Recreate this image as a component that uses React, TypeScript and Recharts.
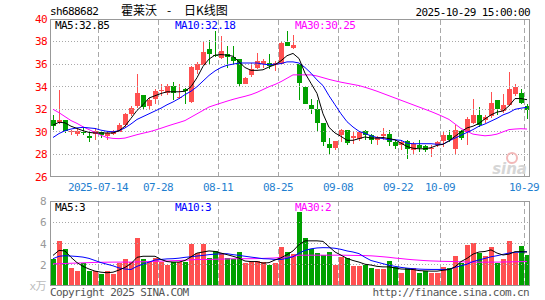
import React from 'react';
import { ComposedChart, Bar, Line, XAxis, YAxis, ReferenceLine } from 'recharts';

const dates = [
  '2025-07-02', '2025-07-03', '2025-07-04', '2025-07-07', '2025-07-08', '2025-07-09', '2025-07-10', '2025-07-11',
  '2025-07-14', '2025-07-15', '2025-07-16', '2025-07-17', '2025-07-18', '2025-07-21', '2025-07-22', '2025-07-23',
  '2025-07-24', '2025-07-25', '2025-07-28', '2025-07-29', '2025-07-30', '2025-07-31', '2025-08-01', '2025-08-04',
  '2025-08-05', '2025-08-06', '2025-08-07', '2025-08-08', '2025-08-11', '2025-08-12', '2025-08-13', '2025-08-14',
  '2025-08-15', '2025-08-18', '2025-08-19', '2025-08-20', '2025-08-21', '2025-08-22', '2025-08-25', '2025-08-26',
  '2025-08-27', '2025-08-28', '2025-08-29', '2025-09-01', '2025-09-02', '2025-09-03', '2025-09-04', '2025-09-05',
  '2025-09-08', '2025-09-09', '2025-09-10', '2025-09-11', '2025-09-12', '2025-09-15', '2025-09-16', '2025-09-17',
  '2025-09-18', '2025-09-19', '2025-09-22', '2025-09-23', '2025-09-24', '2025-09-25', '2025-09-26', '2025-09-29',
  '2025-09-30', '2025-10-09', '2025-10-10', '2025-10-13', '2025-10-14', '2025-10-15', '2025-10-16', '2025-10-17',
  '2025-10-20', '2025-10-21', '2025-10-22', '2025-10-23', '2025-10-24', '2025-10-27', '2025-10-28', '2025-10-29',
];

const opens = [
  31.05, 30.87, 31.02, 29.95, 29.85, 30.0, 29.6, 29.85, 30.0, 29.6,
  29.8, 30.0, 30.57, 31.6, 32.3, 33.3, 32.3, 32.9, 33.6, 33.4,
  34.1, 33.0, 33.8, 32.64, 35.45, 35.94, 37.36, 36.85, 36.56, 36.9,
  36.6, 36.47, 34.26, 35.0, 35.7, 36.03, 36.1, 35.9, 36.03, 38.0,
  37.4, 36.03, 34.0, 32.34, 32.0, 30.78, 28.9, 28.6, 29.7, 30.13,
  29.45, 29.35, 30.04, 29.75, 29.3, 29.6, 29.84, 29.1, 28.8, 29.16,
  28.42, 28.8, 28.72, 28.5, 28.8, 29.16, 29.69, 28.5, 30.04, 29.99,
  30.78, 31.46, 31.05, 31.37, 32.8, 31.85, 32.35, 33.38, 33.44, 32.26,
];

const closes = [
  30.55, 31.08, 30.1, 30.05, 30.05, 29.95, 29.5, 30.1, 29.75, 29.9,
  30.05, 30.57, 31.6, 32.1, 33.47, 32.2, 32.85, 33.6, 33.7, 34.1,
  33.4, 33.1, 33.65, 35.73, 36.05, 37.06, 36.9, 36.75, 37.15, 36.6,
  36.3, 34.26, 34.76, 35.6, 36.3, 36.3, 35.8, 36.1, 37.9, 37.65,
  37.74, 34.32, 32.5, 32.0, 30.78, 29.1, 28.6, 29.16, 30.13, 29.04,
  29.65, 30.0, 29.7, 29.3, 29.55, 29.85, 29.1, 28.75, 29.1, 28.5,
  28.96, 28.6, 28.42, 28.6, 29.1, 29.69, 29.3, 30.13, 29.49, 31.17,
  31.46, 30.58, 31.35, 32.55, 32.05, 32.35, 33.84, 34.0, 32.55, 31.9,
];

const highs = [
  31.5, 33.7, 31.05, 30.15, 30.3, 30.4, 30.0, 30.3, 30.05, 30.05,
  30.2, 30.75, 31.7, 32.3, 35.1, 33.3, 33.0, 33.8, 34.2, 34.25,
  34.4, 34.2, 33.9, 35.8, 36.2, 37.95, 38.1, 38.9, 38.45, 37.6,
  37.6, 36.47, 34.85, 36.1, 37.0, 36.45, 36.86, 36.3, 37.95, 38.9,
  38.6, 36.03, 34.0, 32.87, 32.8, 30.78, 29.5, 29.2, 30.28, 30.13,
  30.1, 30.1, 30.13, 29.83, 29.6, 30.34, 30.13, 29.3, 29.25, 29.25,
  29.1, 29.25, 28.8, 28.8, 29.2, 30.0, 30.2, 30.6, 30.13, 31.3,
  32.94, 32.2, 31.5, 33.53, 32.8, 33.38, 35.3, 34.26, 33.8, 32.5,
];

const lows = [
  30.2, 30.7, 29.9, 29.75, 29.6, 29.7, 29.1, 29.3, 29.5, 29.25,
  29.7, 29.95, 30.45, 31.4, 32.1, 32.0, 32.05, 32.5, 33.2, 33.3,
  32.8, 32.9, 32.5, 32.55, 35.1, 35.88, 36.0, 36.6, 36.47, 35.7,
  36.0, 33.97, 34.2, 34.9, 35.6, 35.7, 35.6, 35.4, 35.95, 37.65,
  37.36, 32.84, 32.45, 31.6, 30.1, 28.74, 28.0, 28.36, 29.1, 28.8,
  28.9, 29.2, 29.25, 28.95, 28.8, 29.25, 28.75, 28.5, 28.4, 27.57,
  28.0, 28.2, 28.2, 27.8, 28.7, 28.65, 29.1, 28.07, 29.3, 28.8,
  30.72, 30.43, 30.75, 31.2, 31.5, 31.7, 32.26, 33.2, 32.5, 31.17,
];

const volumes = [
  2.55, 4.2, 3.45, 1.68, 1.38, 2.15, 1.38, 1.38, 1.1, 1.38,
  1.1, 2.15, 2.5, 2.3, 4.5, 2.5, 2.3, 2.6, 2.3, 1.95,
  2.25, 2.25, 2.25, 3.93, 3.15, 3.93, 2.63, 3.33, 3.08, 2.67,
  2.51, 3.17, 2.13, 2.22, 2.35, 2.22, 1.97, 2.19, 3.71, 3.17,
  2.98, 6.96, 4.56, 3.46, 3.08, 2.92, 3.17, 1.97, 2.76, 2.67,
  1.91, 1.91, 1.97, 1.65, 1.56, 1.56, 2.35, 1.75, 1.27, 1.72,
  1.72, 1.18, 1.43, 1.18, 1.18, 1.75, 1.72, 2.82, 2.13, 3.87,
  4.02, 3.08, 2.82, 3.64, 2.19, 2.51, 4.25, 3.08, 3.77, 2.92,
];

const ma5 = [
  30.6, 30.85, 30.8, 30.5, 30.3, 30.1, 29.95, 29.9, 29.9, 29.9,
  29.9, 30.1, 30.5, 31.2, 31.9, 32.4, 33.0, 33.2, 33.4, 33.55,
  33.55, 33.55, 33.6, 34.0, 34.8, 35.8, 36.45, 36.8, 36.85, 36.8,
  36.7, 36.2, 35.7, 35.45, 35.45, 35.5, 35.75, 35.95, 36.3, 36.75,
  36.95, 36.5, 35.2, 34.3, 33.4, 31.6, 30.4, 29.9, 29.6, 29.25,
  29.25, 29.4, 29.55, 29.45, 29.45, 29.5, 29.4, 29.3, 29.0, 28.7,
  28.55, 28.5, 28.5, 28.6, 28.8, 28.9, 29.2, 29.6, 30.0, 30.35,
  30.5, 30.75, 31.15, 31.5, 31.75, 31.85, 32.3, 32.95, 32.95, 32.85,
];

const ma10 = [
  29.5, 29.85, 30.1, 30.25, 30.35, 30.4, 30.35, 30.3, 30.15, 30.05,
  30.0, 30.1, 30.35, 30.7, 31.1, 31.35, 31.6, 31.85, 32.1, 32.4,
  32.65, 32.95, 33.3, 33.6, 34.0, 34.5, 35.0, 35.4, 35.7, 35.9,
  36.0, 36.1, 36.1, 36.1, 36.1, 36.0, 35.95, 36.0, 36.05, 36.2,
  36.2, 36.1, 35.7, 35.2, 34.6, 34.1, 33.2, 32.4, 31.6, 30.9,
  30.43, 30.05, 29.85, 29.65, 29.5, 29.4, 29.3, 29.3, 29.25, 29.0,
  28.95, 28.95, 28.95, 28.95, 28.9, 28.9, 29.2, 29.45, 29.7, 29.95,
  30.2, 30.5, 30.7, 30.95, 31.2, 31.5, 31.7, 32.0, 32.1, 32.18,
];

const ma30 = [
  32.0, 31.7, 31.35, 31.0, 30.75, 30.45, 30.2, 29.95, 29.7, 29.5,
  29.42, 29.4, 29.45, 29.6, 29.75, 29.88, 30.0, 30.15, 30.32, 30.5,
  30.67, 30.83, 31.0, 31.3, 31.6, 31.9, 32.2, 32.38, 32.55, 32.72,
  32.88, 33.02, 33.15, 33.3, 33.5, 33.75, 34.0, 34.2, 34.45, 34.75,
  35.05, 35.05, 35.05, 35.05, 34.95, 34.8, 34.65, 34.52, 34.4, 34.3,
  34.2, 34.1, 33.95, 33.78, 33.6, 33.4, 33.2, 33.0, 32.8, 32.6,
  32.4, 32.2, 32.0, 31.8, 31.58, 31.35, 31.1, 30.7, 30.3, 30.05,
  29.8, 29.72, 29.65, 29.7, 29.8, 30.0, 30.2, 30.25, 30.28, 30.25,
];

const volMa5 = [
  2.88, 3.35, 3.3, 2.7, 2.2, 1.85, 1.6, 1.4, 1.3, 1.25,
  1.3, 1.5, 1.75, 2.1, 2.7, 2.8, 2.8, 2.8, 2.5, 2.3,
  2.25, 2.25, 2.4, 2.75, 3.1, 3.2, 3.3, 3.25, 3.1, 2.95,
  2.8, 2.62, 2.35, 2.3, 2.3, 2.15, 2.2, 2.45, 2.65, 2.95,
  3.3, 3.9, 4.25, 4.25, 4.25, 4.2, 3.7, 3.2, 2.9, 2.6,
  2.4, 2.25, 2.05, 1.97, 1.85, 1.8, 1.8, 1.7, 1.6, 1.58,
  1.55, 1.45, 1.42, 1.4, 1.4, 1.48, 1.55, 1.8, 2.3, 2.6,
  3.0, 3.2, 3.25, 3.4, 3.1, 2.92, 3.0, 3.23, 3.23, 3.2,
];

const volMa10 = [
  2.57, 2.8, 2.85, 2.82, 2.78, 2.72, 2.6, 2.4, 2.2, 2.05,
  1.9, 1.7, 1.6, 1.55, 1.85, 2.05, 2.25, 2.45, 2.5, 2.55,
  2.57, 2.62, 2.7, 2.75, 2.82, 2.88, 2.95, 3.0, 3.02, 3.04,
  2.95, 2.88, 2.8, 2.72, 2.65, 2.57, 2.55, 2.5, 2.5, 2.6,
  2.75, 3.1, 3.35, 3.5, 3.58, 3.61, 3.6, 3.55, 3.45, 3.3,
  3.2, 3.05, 2.7, 2.4, 2.25, 2.1, 1.95, 1.85, 1.75, 1.68,
  1.63, 1.59, 1.57, 1.56, 1.56, 1.56, 1.56, 1.75, 1.9, 2.05,
  2.3, 2.45, 2.6, 2.75, 2.85, 2.98, 3.1, 3.17, 3.2, 3.23,
];

const volMa30 = [
  2.09, 2.1, 2.12, 2.14, 2.16, 2.18, 2.2, 2.22, 2.23, 2.24,
  2.25, 2.25, 2.25, 2.25, 2.27, 2.28, 2.3, 2.32, 2.34, 2.35,
  2.38, 2.4, 2.43, 2.46, 2.5, 2.5, 2.5, 2.52, 2.53, 2.55,
  2.56, 2.57, 2.57, 2.57, 2.58, 2.6, 2.62, 2.64, 2.68, 2.72,
  2.78, 2.9, 2.9, 2.9, 2.9, 2.9, 2.9, 2.9, 2.9, 2.89,
  2.88, 2.87, 2.86, 2.84, 2.8, 2.75, 2.7, 2.63, 2.58, 2.52,
  2.47, 2.43, 2.39, 2.36, 2.34, 2.32, 2.31, 2.3, 2.28, 2.26,
  2.25, 2.24, 2.24, 2.25, 2.25, 2.26, 2.27, 2.28, 2.29, 2.3,
];

const dateTicks = ['2025-07-14', '2025-07-28', '2025-08-11', '2025-08-25', '2025-09-08', '2025-09-22', '2025-10-09', '2025-10-29'];
const priceTicks = [26, 28, 30, 32, 34, 36, 38, 40];
const priceGrid = [28, 30, 32, 34, 36, 38];
const volTicks = [0, 2, 4, 6, 8];
const volGrid = [2, 4, 6];

const UP = '#ff5050';
const DOWN = '#00a000';
const FRAME = '#999999';
const GRID = '#a8a8a8';
const MONO = '"DejaVu Sans Mono", "Noto Sans CJK SC", monospace';
const CJK = '"Noto Sans CJK SC", sans-serif';

const rows = dates.map((d, i) => ({
  date: d,
  open: opens[i],
  close: closes[i],
  high: highs[i],
  low: lows[i],
  range: [lows[i], highs[i]],
  vol: volumes[i],
  ma5: ma5[i],
  ma10: ma10[i],
  ma30: ma30[i],
  vma5: volMa5[i],
  vma10: volMa10[i],
  vma30: volMa30[i],
}));

const margin = { top: 19, right: 15, bottom: 0, left: 0 };
const volMargin = { top: 6, right: 15, bottom: 10, left: 0 };

// candle drawn inside the [low, high] range bar
function Candle(props: any) {
  const { x, y, width, height, payload } = props;
  if (x == null || y == null) return null;
  const { open, close, high, low } = payload;
  const top = Math.min(y, y + height);
  const bottom = Math.max(y, y + height);
  const span = high - low || 1;
  const py = (p: number) => top + ((high - p) / span) * (bottom - top);
  const color = close >= open ? UP : DOWN;
  const left = Math.floor(x);
  const bTop = Math.round(py(Math.max(open, close)));
  const bBot = Math.round(py(Math.min(open, close)));
  const wTop = Math.round(py(high));
  const wBot = Math.round(py(low));
  return (
    <g shapeRendering="crispEdges">
      <rect x={left + 2} y={wTop} width={1} height={Math.max(1, wBot - wTop)} fill={color} />
      <rect x={left} y={bTop} width={Math.round(width)} height={Math.max(1, bBot - bTop)} fill={color} />
    </g>
  );
}

function VolBar(props: any) {
  const { x, y, width, height, payload } = props;
  if (x == null || y == null) return null;
  const color = payload.close >= payload.open ? UP : DOWN;
  const t = Math.round(y);
  const b = Math.round(y + height);
  return (
    <rect x={Math.floor(x)} y={t} width={Math.round(width)} height={Math.max(0, b - t)} fill={color} shapeRendering="crispEdges" />
  );
}

const crisp = (stroke: string, dash?: string, shift = 0) => (p: any) => {
  const vertical = Math.abs(p.x1 - p.x2) < 0.01;
  const x1 = vertical ? Math.floor(p.x1) + 0.5 + shift : p.x1;
  const x2 = vertical ? Math.floor(p.x2) + 0.5 + shift : p.x2;
  const y1 = vertical ? p.y1 : Math.floor(p.y1) + 0.5 + shift;
  const y2 = vertical ? p.y2 : Math.floor(p.y2) + 0.5 + shift;
  return <line x1={x1} y1={y1} x2={x2} y2={y2} stroke={stroke} strokeWidth={1} strokeDasharray={dash} />;
};

function DateTick(props: any) {
  const { x, y, payload } = props;
  const v: string = payload.value;
  const label = v === dateTicks[0] ? v : v.slice(5);
  return (
    <text x={x - 3} y={y + 14} textAnchor="middle" fill="#1f7fcf" fontSize={11} fontFamily={MONO} letterSpacing={-0.6}>
      {label}
    </text>
  );
}

function VolTick(props: any) {
  const { x, y, payload } = props;
  const zero = payload.value === 0;
  return (
    <text x={x} y={y + 4} textAnchor="end" fill={zero ? '#bbbbbb' : '#999999'} fontSize={11} fontFamily={MONO} letterSpacing={-0.6}>
      {zero ? 'x万' : payload.value}
    </text>
  );
}

function Frame({ top, bottom }: { top: number; bottom: number }) {
  return (
    <>
      <ReferenceLine y={top} stroke={FRAME} shape={crisp(FRAME)} />
      <ReferenceLine y={bottom} stroke={FRAME} shape={crisp(FRAME, undefined, -1)} />
      <ReferenceLine x={dates[0]} position="start" stroke={FRAME} shape={crisp(FRAME)} />
      <ReferenceLine x={dates[dates.length - 1]} position="end" stroke={FRAME} shape={crisp(FRAME, undefined, -1)} />
    </>
  );
}

function Label({ x, y, color, children, anchor = 'start', size = 11 }: any) {
  return (
    <text x={x} y={y} fill={color} fontSize={size} fontFamily={MONO} letterSpacing={-0.6} textAnchor={anchor}>
      {children}
    </text>
  );
}

export default function App() {
  return (
    <div style={{ position: 'absolute', left: 0, top: 0, width: 545, height: 300, background: '#fff', overflow: 'hidden' }}>
      <div style={{ position: 'absolute', left: 0, top: 0 }}>
        <ComposedChart width={545} height={200} data={rows} margin={margin}>
          <XAxis
            dataKey="date"
            ticks={dateTicks}
            interval={0}
            axisLine={false}
            tickLine={false}
            tickSize={0}
            tickMargin={0}
            height={23}
            tick={<DateTick />}
          />
          <YAxis
            type="number"
            domain={[26, 40]}
            ticks={priceTicks}
            interval={0}
            width={50}
            axisLine={false}
            tickLine={false}
            tickSize={0}
            tickMargin={3}
            tick={{ fill: '#ff0000', fontSize: 11, fontFamily: MONO, letterSpacing: -0.6 }}
          />
          {priceGrid.map((t) => (
            <ReferenceLine key={`h${t}`} y={t} stroke={GRID} shape={crisp(GRID, '1 2')} />
          ))}
          {dateTicks.map((d) => (
            <ReferenceLine key={`v${d}`} x={d} position="start" stroke={GRID} shape={crisp(GRID, '5 3')} />
          ))}
          <Frame top={40} bottom={26} />
          <Bar dataKey="range" barSize={5} shape={<Candle />} isAnimationActive={false} />
          <Line type="linear" dataKey="ma30" stroke="#ff00ff" strokeWidth={1} dot={false} isAnimationActive={false} />
          <Line type="linear" dataKey="ma10" stroke="#0000ff" strokeWidth={1} dot={false} isAnimationActive={false} />
          <Line type="linear" dataKey="ma5" stroke="#000000" strokeWidth={1} dot={false} isAnimationActive={false} />
        </ComposedChart>
      </div>
      <div style={{ position: 'absolute', left: 0, top: 195 }}>
        <ComposedChart width={545} height={101} data={rows} margin={volMargin}>
          <XAxis dataKey="date" hide />
          <YAxis
            type="number"
            domain={[0, 8]}
            ticks={volTicks}
            interval={0}
            width={50}
            axisLine={false}
            tickLine={false}
            tickSize={0}
            tickMargin={4}
            tick={<VolTick />}
          />
          {volGrid.map((t) => (
            <ReferenceLine key={`h${t}`} y={t} stroke={GRID} shape={crisp(GRID, '1 2')} />
          ))}
          {dateTicks.map((d) => (
            <ReferenceLine key={`v${d}`} x={d} position="start" stroke={GRID} shape={crisp(GRID, '5 3')} />
          ))}
          <Frame top={8} bottom={0} />
          <Bar dataKey="vol" barSize={5} shape={<VolBar />} isAnimationActive={false} />
          <Line type="linear" dataKey="vma30" stroke="#ff00ff" strokeWidth={1} dot={false} isAnimationActive={false} />
          <Line type="linear" dataKey="vma10" stroke="#0000ff" strokeWidth={1} dot={false} isAnimationActive={false} />
          <Line type="linear" dataKey="vma5" stroke="#000000" strokeWidth={1} dot={false} isAnimationActive={false} />
        </ComposedChart>
      </div>
      <svg width={545} height={300} style={{ position: 'absolute', left: 0, top: 0, pointerEvents: 'none' }}>
        <Label x={50} y={15} color="#000">sh688682</Label>
        <text x={121} y={14.5} fontSize={12} fontFamily={CJK} fill="#000">霍莱沃</text>
        <text x={169} y={14.5} fontSize={12} fontFamily={CJK} fill="#000" textAnchor="middle">-</text>
        <text x={184} y={14.5} fontSize={12} fontFamily={CJK} fill="#000">日K线图</text>
        <Label x={530} y={16} color="#000" anchor="end">2025-10-29 15:00:00</Label>
        <Label x={55} y={28.5} color="#000">MA5:32.85</Label>
        <Label x={175} y={28.5} color="#0000ff">MA10:32.18</Label>
        <Label x={295} y={28.5} color="#ff00ff">MA30:30.25</Label>
        <Label x={55} y={210.5} color="#000">MA5:3</Label>
        <Label x={175} y={210.5} color="#0000ff">MA10:3</Label>
        <Label x={295} y={210.5} color="#ff00ff">MA30:2</Label>
        <Label x={50} y={296} color="#555">Copyright 2025 SINA.COM</Label>
        <Label x={529} y={296} color="#555" anchor="end">http://finance.sina.com.cn</Label>
        <circle cx={512} cy={158} r={5} fill="none" stroke="#f2b8b8" strokeWidth={2} />
        <text x={527} y={174} textAnchor="end" fontSize={15} fontStyle="italic" fontWeight="bold" fontFamily="'DejaVu Sans', sans-serif" fill="#d6d6d6">
          sina
        </text>
      </svg>
    </div>
  );
}
